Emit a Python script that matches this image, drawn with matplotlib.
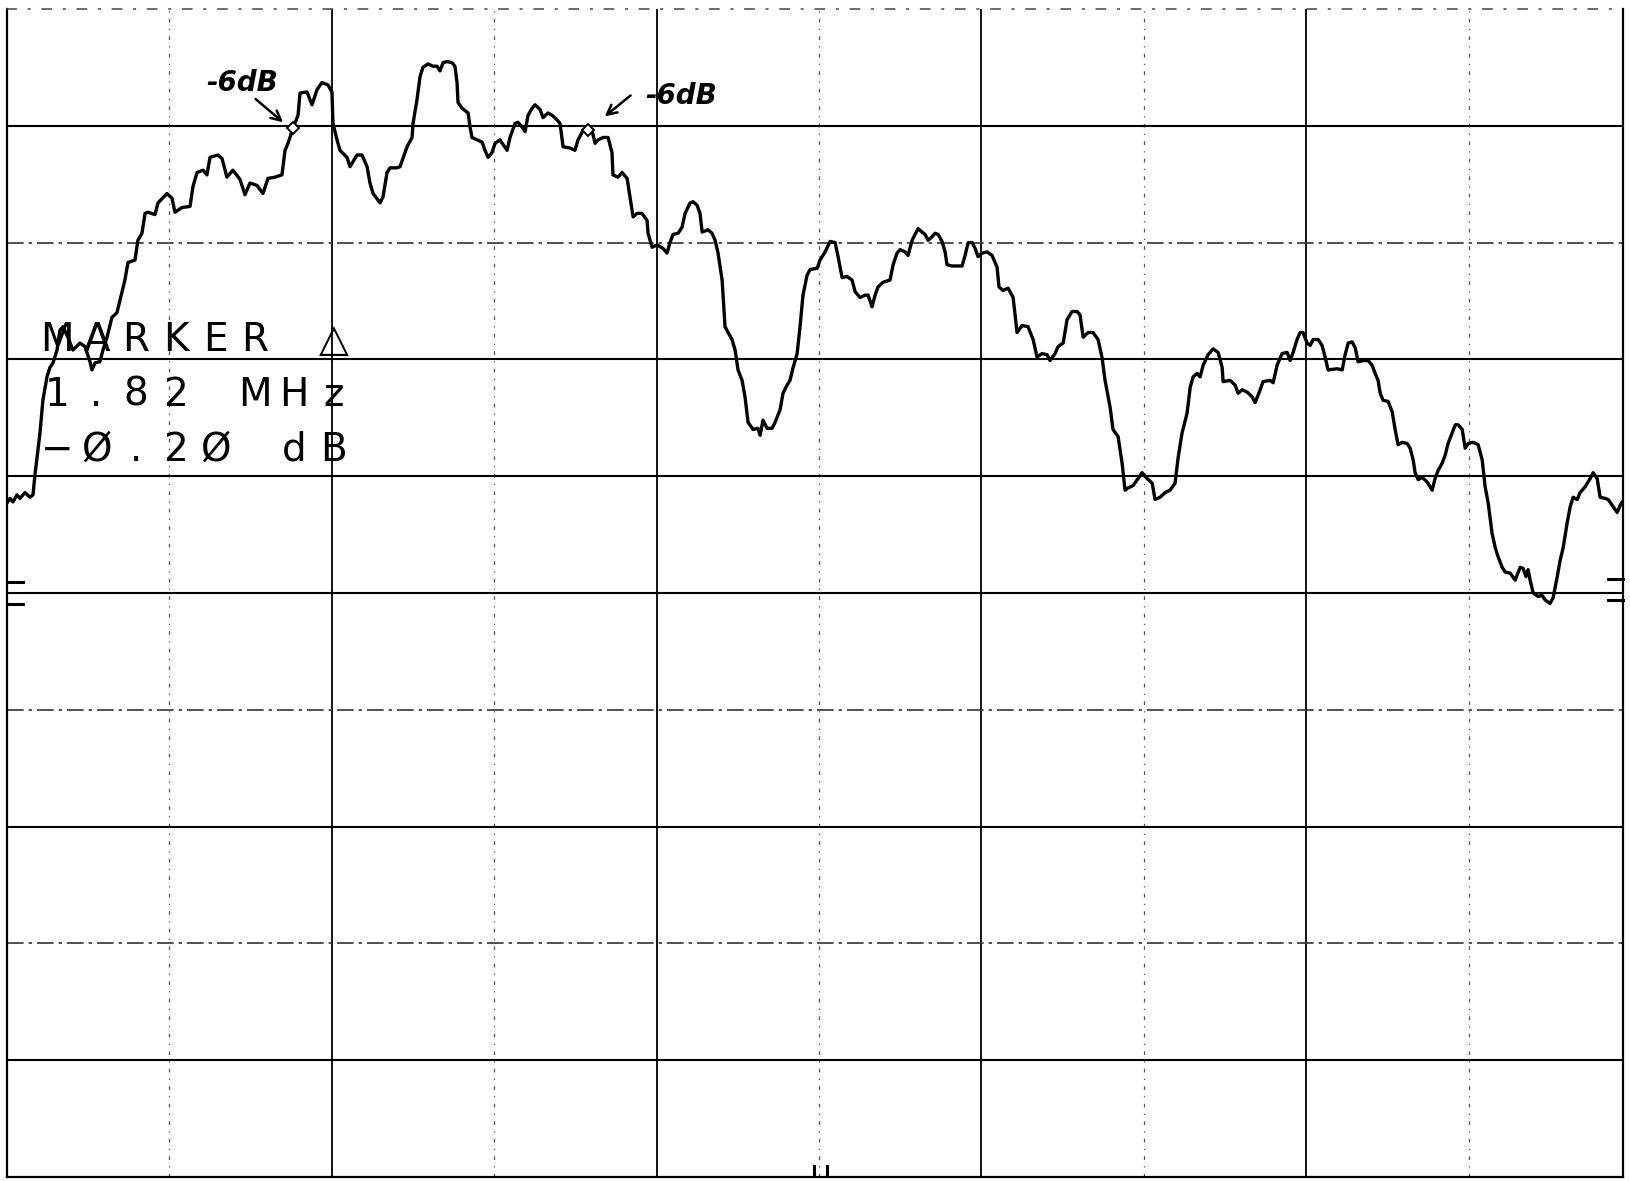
import matplotlib
matplotlib.use("Agg")
import matplotlib.pyplot as plt

# Swept trace: frequency offset from centre (MHz) and level (dB, 0 dB = top graticule line)
freq_mhz = [
    -5.000, -4.982, -4.963, -4.939, -4.920, -4.889, -4.859, -4.840, -4.828, -4.797,
    -4.779, -4.754, -4.736, -4.717, -4.692, -4.674, -4.655, -4.625, -4.594, -4.551,
    -4.520, -4.489, -4.477, -4.458, -4.428, -4.409, -4.384, -4.354, -4.323, -4.304,
    -4.274, -4.255, -4.212, -4.194, -4.169, -4.150, -4.132, -4.089, -4.070, -4.015,
    -3.984, -3.966, -3.923, -3.873, -3.855, -3.830, -3.793, -3.769, -3.750, -3.701,
    -3.676, -3.646, -3.609, -3.565, -3.535, -3.504, -3.461, -3.424, -3.393, -3.350,
    -3.307, -3.288, -3.270, -3.239, -3.208, -3.196, -3.153, -3.122, -3.091, -3.061,
    -3.024, -2.999, -2.993, -2.968, -2.950, -2.907, -2.888, -2.845, -2.814, -2.783,
    -2.765, -2.746, -2.703, -2.685, -2.660, -2.642, -2.599, -2.580, -2.537, -2.506,
    -2.500, -2.476, -2.457, -2.439, -2.408, -2.377, -2.352, -2.334, -2.315, -2.291,
    -2.260, -2.242, -2.229, -2.223, -2.198, -2.161, -2.149, -2.137, -2.106, -2.075,
    -2.057, -2.038, -2.014, -1.995, -1.964, -1.946, -1.921, -1.903, -1.872, -1.854,
    -1.829, -1.810, -1.792, -1.767, -1.749, -1.718, -1.700, -1.669, -1.644, -1.613,
    -1.595, -1.576, -1.533, -1.503, -1.484, -1.453, -1.429, -1.398, -1.379, -1.361,
    -1.330, -1.299, -1.275, -1.269, -1.238, -1.213, -1.182, -1.164, -1.145, -1.121,
    -1.090, -1.059, -1.053, -1.028, -0.998, -0.961, -0.936, -0.918, -0.899, -0.868,
    -0.844, -0.825, -0.794, -0.776, -0.751, -0.733, -0.720, -0.684, -0.659, -0.640,
    -0.622, -0.597, -0.579, -0.560, -0.536, -0.517, -0.499, -0.474, -0.456, -0.437,
    -0.406, -0.376, -0.363, -0.345, -0.320, -0.289, -0.271, -0.240, -0.222, -0.197,
    -0.179, -0.160, -0.135, -0.117, -0.099, -0.074, -0.055, -0.012, 0.006, 0.037,
    0.068, 0.099, 0.117, 0.142, 0.172, 0.203, 0.222, 0.252, 0.283, 0.302,
    0.326, 0.345, 0.363, 0.394, 0.437, 0.456, 0.480, 0.499, 0.530, 0.548,
    0.573, 0.591, 0.610, 0.634, 0.653, 0.671, 0.696, 0.714, 0.733, 0.757,
    0.776, 0.788, 0.819, 0.881, 0.899, 0.918, 0.942, 0.961, 0.979, 1.004,
    1.035, 1.065, 1.096, 1.108, 1.133, 1.164, 1.195, 1.219, 1.250, 1.287,
    1.318, 1.342, 1.373, 1.404, 1.422, 1.453, 1.472, 1.503, 1.527, 1.558,
    1.589, 1.607, 1.626, 1.656, 1.687, 1.718, 1.743, 1.761, 1.792, 1.810,
    1.841, 1.866, 1.884, 1.903, 1.934, 1.964, 1.989, 2.020, 2.051, 2.069,
    2.100, 2.131, 2.161, 2.192, 2.211, 2.235, 2.266, 2.285, 2.303, 2.328,
    2.346, 2.365, 2.395, 2.426, 2.457, 2.482, 2.488, 2.531, 2.562, 2.580,
    2.605, 2.636, 2.666, 2.685, 2.716, 2.734, 2.777, 2.796, 2.820, 2.851,
    2.882, 2.900, 2.919, 2.943, 2.962, 2.980, 3.005, 3.024, 3.042, 3.073,
    3.097, 3.116, 3.134, 3.190, 3.221, 3.239, 3.258, 3.282, 3.301, 3.319,
    3.350, 3.381, 3.405, 3.424, 3.442, 3.455, 3.473, 3.504, 3.529, 3.547,
    3.565, 3.590, 3.621, 3.639, 3.658, 3.670, 3.689, 3.713, 3.744, 3.775,
    3.793, 3.812, 3.836, 3.855, 3.873, 3.898, 3.917, 3.935, 3.960, 3.978,
    3.997, 4.027, 4.058, 4.083, 4.101, 4.120, 4.144, 4.163, 4.181, 4.206,
    4.224, 4.255, 4.286, 4.317, 4.335, 4.353, 4.366, 4.378, 4.397, 4.428,
    4.452, 4.471, 4.501, 4.520, 4.545, 4.563, 4.582, 4.606, 4.625, 4.643,
    4.668, 4.686, 4.717, 4.748, 4.766, 4.791, 4.809, 4.840, 4.859, 4.889,
    4.914, 4.932, 4.945,
]

level_db = [
    -42.3, -41.9, -42.2, -41.6, -41.9, -41.4, -41.8, -41.6, -39.9, -36.3,
    -33.5, -31.5, -30.7, -30.3, -29.2, -27.5, -27.2, -28.1, -29.2, -28.6,
    -28.9, -30.2, -30.9, -30.3, -30.2, -29.2, -28.1, -26.4, -26.0, -24.9,
    -23.2, -21.7, -21.5, -19.8, -19.2, -17.5, -17.4, -17.6, -16.6, -15.8,
    -16.2, -17.4, -17.0, -16.9, -15.2, -14.0, -13.8, -14.2, -12.7, -12.5,
    -12.8, -14.4, -13.8, -14.6, -15.9, -14.9, -15.1, -15.8, -14.5, -14.4,
    -14.2, -12.1, -11.5, -10.2, -9.1, -7.2, -7.1, -8.2, -6.9, -6.3,
    -6.5, -7.1, -9.8, -11.2, -12.1, -12.7, -13.5, -12.5, -12.5, -13.5,
    -14.9, -15.8, -16.6, -16.1, -14.0, -13.6, -13.6, -13.5, -11.8, -11.0,
    -9.8, -7.8, -5.8, -5.0, -4.7, -4.9, -4.9, -5.3, -4.6, -4.5,
    -4.6, -4.9, -6.3, -8.0, -8.5, -8.9, -10.1, -11.0, -11.2, -11.4,
    -12.1, -12.7, -12.3, -11.5, -11.2, -11.6, -12.1, -11.0, -9.8, -9.7,
    -10.1, -10.5, -9.1, -8.5, -8.2, -8.6, -9.3, -8.9, -9.1, -9.5,
    -9.8, -11.8, -11.9, -12.1, -11.2, -10.4, -10.2, -10.4, -11.5, -11.2,
    -11.0, -11.0, -12.3, -14.2, -14.4, -14.0, -14.5, -16.1, -17.8, -17.5,
    -17.5, -18.1, -19.2, -20.4, -20.2, -20.5, -20.9, -20.0, -19.3, -19.2,
    -18.7, -17.5, -16.6, -16.5, -16.8, -17.5, -19.1, -18.9, -19.2, -19.8,
    -20.9, -23.2, -27.2, -27.7, -28.3, -29.2, -30.9, -31.8, -33.2, -35.4,
    -36.0, -35.9, -36.5, -35.2, -35.9, -35.9, -35.4, -34.3, -32.9, -32.2,
    -31.8, -30.7, -29.5, -27.2, -24.5, -22.8, -22.3, -22.2, -21.5, -20.8,
    -19.9, -20.0, -21.2, -23.0, -22.9, -23.2, -24.2, -24.7, -24.5, -24.5,
    -25.5, -24.5, -23.8, -23.4, -23.2, -21.9, -20.9, -20.6, -20.8, -21.1,
    -19.8, -19.3, -18.8, -19.1, -19.3, -19.8, -19.5, -19.2, -19.3, -19.9,
    -20.8, -21.9, -22.0, -22.0, -21.1, -20.0, -20.0, -20.5, -21.2, -20.9,
    -20.8, -21.1, -22.1, -23.8, -24.1, -23.9, -24.7, -27.7, -27.1, -27.2,
    -28.3, -29.8, -29.5, -29.6, -30.1, -29.5, -28.9, -28.6, -26.6, -25.9,
    -25.9, -26.2, -28.1, -27.7, -27.7, -28.3, -29.9, -31.8, -34.1, -36.0,
    -36.6, -38.9, -41.2, -41.0, -40.8, -40.2, -39.7, -40.2, -40.6, -42.0,
    -41.8, -41.4, -41.2, -40.6, -38.4, -36.3, -34.6, -32.4, -31.5, -31.2,
    -31.5, -30.5, -29.6, -29.1, -29.4, -30.7, -31.9, -31.8, -32.2, -32.9,
    -32.6, -32.8, -33.2, -33.7, -32.6, -31.9, -31.8, -32.0, -30.5, -29.5,
    -29.4, -30.1, -29.4, -28.3, -27.7, -27.7, -28.6, -28.8, -28.3, -28.3,
    -28.8, -29.8, -30.9, -30.8, -30.9, -29.6, -28.6, -28.5, -29.0, -30.2,
    -30.1, -30.1, -30.5, -31.2, -31.8, -32.9, -33.5, -33.6, -34.5, -36.0,
    -37.3, -37.1, -37.2, -37.6, -38.6, -39.7, -40.3, -40.1, -40.5, -41.2,
    -40.2, -39.5, -38.9, -38.2, -37.2, -36.3, -35.6, -35.6, -36.0, -37.6,
    -37.2, -37.1, -37.3, -38.6, -40.9, -42.3, -44.9, -46.1, -46.9, -47.8,
    -48.2, -48.3, -48.9, -47.8, -47.9, -48.6, -48.0, -48.9, -50.0, -50.3,
    -50.2, -50.6, -50.9, -50.4, -48.6, -47.2, -46.1, -44.0, -42.6, -41.8,
    -42.0, -41.4, -40.9, -40.2, -39.7, -40.2, -41.8, -41.9, -42.0, -42.6,
    -43.1, -42.5, -42.2,
]

# Graticule: 10 divisions each way, 10 dB/div, ~1 MHz/div
x_grid_mhz = [-4, -3, -2, -1, 0, 1, 2, 3, 4]
x_grid_dotted = [-4, -2, 0, 2, 4]
y_grid_db = [-10, -20, -30, -40, -50, -60, -70, -80, -90]
y_grid_dashed = [-20, -60, -80]

# Delta marker readout
marker1_mhz = -3.24
marker1_db = -10.2
marker_delta_mhz = 1.82
marker_delta_db = -0.20
readout_lines = ["MARKER \u25b3", "1.82 MHz", "\u2212\u00d8.2\u00d8 dB"]
note_text = "-6dB"

W, H = 1630, 1181
fig = plt.figure(figsize=(W / 100, H / 100), dpi=100)
fig.patch.set_facecolor("white")
ax = fig.add_axes([7 / W, 4 / H, 1616 / W, 1168 / H])
ax.set_xlim(-5.0, 4.95)
ax.set_ylim(-100, 0)
ax.set_xticks([])
ax.set_yticks([])

for side in ("left", "right", "bottom"):
    ax.spines[side].set_linewidth(1.6)
    ax.spines[side].set_color("black")
ax.spines["top"].set_linewidth(1.1)
ax.spines["top"].set_linestyle((0, (6, 8, 1, 8)))
ax.spines["top"].set_color("#444444")

for xv in x_grid_mhz:
    if xv in x_grid_dotted:
        ax.axvline(xv, color="#555555", lw=0.9, ls=(0, (3, 5, 1, 5)), zorder=1)
    else:
        ax.axvline(xv, color="black", lw=1.3, zorder=1)
for yv in y_grid_db:
    if yv in y_grid_dashed:
        ax.axhline(yv, color="#333333", lw=1.2, ls=(0, (10, 3, 2, 3)), zorder=1)
    else:
        ax.axhline(yv, color="black", lw=1.5, zorder=1)

# Reference-level ticks on both sides and centre-frequency ticks at the bottom
ref_tick_db = [-49.1, -50.9]
for yv in ref_tick_db:
    ax.plot([-5.0, -4.9], [yv, yv], color="black", lw=2.2, clip_on=False, zorder=3)
    ax.plot([4.86, 4.95], [yv + 0.3, yv + 0.3], color="black", lw=2.2, clip_on=False, zorder=3)
for xv in (-0.03, 0.05):
    ax.plot([xv, xv], [-100, -99.1], color="black", lw=2.2, zorder=3)

# Trace
ax.plot(freq_mhz, level_db, color="black", lw=2.4, solid_joinstyle="round",
        solid_capstyle="round", zorder=4)

# Delta markers
marker2_mhz = marker1_mhz + marker_delta_mhz
marker2_db = marker1_db + marker_delta_db
ax.plot([marker1_mhz, marker2_mhz], [marker1_db, marker2_db], ls="none",
        marker="D", ms=6, mfc="white", mec="black", mew=1.4, zorder=5)

# Hand-written notes pointing at the -6 dB points
hand = dict(fontsize=20, fontstyle="italic", fontweight="bold", color="black",
            family=["DejaVu Sans"])
arrow = dict(arrowstyle="->,head_length=0.7,head_width=0.35", lw=1.8,
             color="black", shrinkA=0, shrinkB=0)
ax.text(-3.55, -7.0, note_text, ha="center", va="baseline", **hand)
ax.annotate("", xy=(-3.30, -9.7), xytext=(-3.47, -7.7), arrowprops=arrow)
ax.text(-1.07, -8.1, note_text, ha="left", va="baseline", **hand)
ax.annotate("", xy=(-1.32, -9.2), xytext=(-1.16, -7.4), arrowprops=arrow)

# Plotter-style readout drawn on a fixed character pitch
char_pitch = 39.5
first_center = 57
baselines = [351, 406, 461]
for line, base in zip(readout_lines, baselines):
    for i, ch in enumerate(line):
        if ch == " ":
            continue
        fig.text((first_center + i * char_pitch) / W, 1 - base / H, ch,
                 ha="center", va="baseline", fontsize=28, fontweight="normal",
                 family=["DejaVu Sans"], color="black", zorder=6)

fig.savefig("out.png", dpi=100, facecolor="white")
